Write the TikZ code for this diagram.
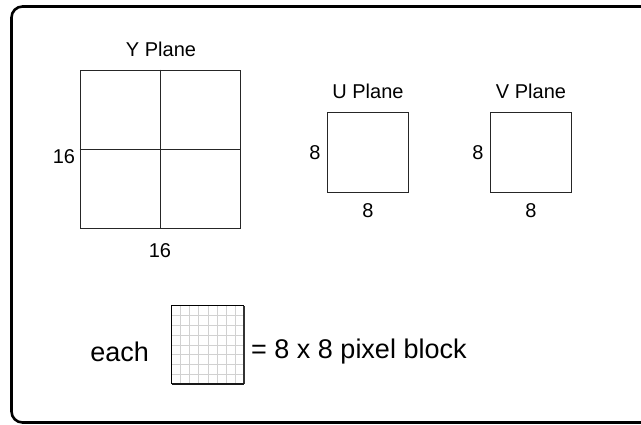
\documentclass[tikz,border=0pt]{standalone}
\usepackage{fontspec}
\setmainfont{Liberation Sans}
\usetikzlibrary{calc}
\tikzset{
  planebox/.style={draw=black!85, line width=0.9pt},
  lbl/.style={inner sep=0pt, font=\fontsize{20}{22}\selectfont},
  bigtxt/.style={inner sep=0pt, font=\fontsize{27}{30}\selectfont},
}
\begin{document}
\begin{tikzpicture}[x=1pt,y=-1pt]
\useasboundingbox (0,0) rectangle (641,424);
\clip (0,0) rectangle (641,424);
% frame
\draw[line width=2.6pt, rounded corners=11pt] (11.5,6.5) rectangle (680,422.5);
% Y plane
\node[planebox, minimum width=160pt, minimum height=158pt, inner sep=0pt] (Y) at (160,149) {};
\draw[black!85, line width=0.9pt] (Y.north) -- (Y.south);
\draw[black!85, line width=0.9pt] (Y.west) -- (Y.east);
\node[lbl] (ylab) at (161,49) {Y Plane};
\node[lbl] (yl) at (64,157) {16};
\node[lbl] (yb) at (160,251) {16};
% U plane
\node[planebox, minimum width=81pt, minimum height=80pt, inner sep=0pt] (U) at (367.5,152) {};
\node[lbl] (ulab) at (368,91) {U Plane};
\node[lbl] (ul) at (315,153) {8};
\node[lbl] (ub) at (368,211) {8};
% V plane
\node[planebox, minimum width=81pt, minimum height=80pt, inner sep=0pt] (V) at (530.5,152) {};
\node[lbl] (vlab) at (531,91) {V Plane};
\node[lbl] (vl) at (478,153) {8};
\node[lbl] (vb) at (531,211) {8};
% pixel block
\node[minimum width=72pt, minimum height=78pt, inner sep=0pt] (B) at (208,345) {};
\foreach \i in {1,...,7} {
  \draw[black!18, line width=1pt] ($(B.north west)!\i/8!(B.north east)$) -- ($(B.south west)!\i/8!(B.south east)$);
  \draw[black!18, line width=1pt] ($(B.north west)!\i/8!(B.south west)$) -- ($(B.north east)!\i/8!(B.south east)$);
}
\draw[black, line width=1pt] (B.south west) -- (B.north west) -- (B.north east);
\draw[black!80, line width=2pt] (B.north east) -- (B.south east);
\draw[black!90, line width=1.5pt] (B.south west) -- (B.south east);
\node[bigtxt, anchor=east] (each) at (149,352) {each};
\node[bigtxt, anchor=west] (eq) at (251,352) {= 8 x 8 pixel block};
\end{tikzpicture}
\end{document}
